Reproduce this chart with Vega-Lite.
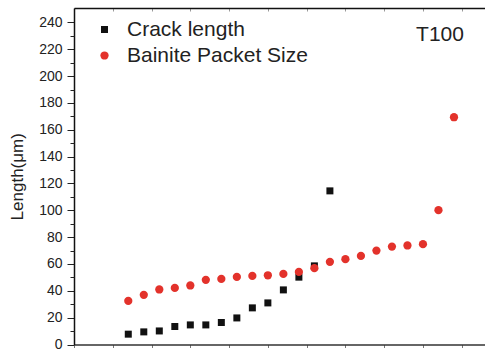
{
  "$schema": "https://vega.github.io/schema/vega-lite/v6.json",
  "autosize": {"type": "none"},
  "padding": {"left": 74, "top": 8, "right": 0, "bottom": 7.5},
  "width": 411,
  "height": 336.5,
  "background": "white",
  "config": {
    "view": {"stroke": null},
    "font": "Liberation Sans",
    "axis": {"grid": false, "labelFont": "Liberation Sans", "titleFont": "Liberation Sans", "labelColor": "#222", "titleColor": "#222"}
  },
  "datasets": {
    "pts": [
      {"series": "Crack length", "rank": 1, "value": 7.7},
      {"series": "Crack length", "rank": 2, "value": 9.4},
      {"series": "Crack length", "rank": 3, "value": 10.1},
      {"series": "Crack length", "rank": 4, "value": 13.4},
      {"series": "Crack length", "rank": 5, "value": 14.6},
      {"series": "Crack length", "rank": 6, "value": 14.6},
      {"series": "Crack length", "rank": 7, "value": 16.4},
      {"series": "Crack length", "rank": 8, "value": 19.8},
      {"series": "Crack length", "rank": 9, "value": 27.3},
      {"series": "Crack length", "rank": 10, "value": 31.0},
      {"series": "Crack length", "rank": 11, "value": 40.7},
      {"series": "Crack length", "rank": 12, "value": 50.2},
      {"series": "Crack length", "rank": 13, "value": 58.6},
      {"series": "Crack length", "rank": 14, "value": 114.5},
      {"series": "Bainite Packet Size", "rank": 1, "value": 32.5},
      {"series": "Bainite Packet Size", "rank": 2, "value": 37.0},
      {"series": "Bainite Packet Size", "rank": 3, "value": 41.0},
      {"series": "Bainite Packet Size", "rank": 4, "value": 42.2},
      {"series": "Bainite Packet Size", "rank": 5, "value": 44.0},
      {"series": "Bainite Packet Size", "rank": 6, "value": 48.2},
      {"series": "Bainite Packet Size", "rank": 7, "value": 48.9},
      {"series": "Bainite Packet Size", "rank": 8, "value": 50.4},
      {"series": "Bainite Packet Size", "rank": 9, "value": 51.1},
      {"series": "Bainite Packet Size", "rank": 10, "value": 51.6},
      {"series": "Bainite Packet Size", "rank": 11, "value": 52.6},
      {"series": "Bainite Packet Size", "rank": 12, "value": 54.1},
      {"series": "Bainite Packet Size", "rank": 13, "value": 56.9},
      {"series": "Bainite Packet Size", "rank": 14, "value": 61.6},
      {"series": "Bainite Packet Size", "rank": 15, "value": 63.6},
      {"series": "Bainite Packet Size", "rank": 16, "value": 66.0},
      {"series": "Bainite Packet Size", "rank": 17, "value": 70.0},
      {"series": "Bainite Packet Size", "rank": 18, "value": 73.0},
      {"series": "Bainite Packet Size", "rank": 19, "value": 73.8},
      {"series": "Bainite Packet Size", "rank": 20, "value": 74.8},
      {"series": "Bainite Packet Size", "rank": 21, "value": 100.1},
      {"series": "Bainite Packet Size", "rank": 22, "value": 169.4}
    ],
    "ann": [
      {"label": "T100", "x": 21.1, "y": 230.5}
    ]
  },
  "layer": [
    {
      "data": {"name": "pts"},
      "mark": {"type": "point", "filled": true, "opacity": 1, "strokeWidth": 0},
      "encoding": {
        "x": {
          "field": "rank", "type": "quantitative",
          "scale": {"domain": [-2.5, 24], "nice": false, "zero": false},
          "axis": {"orient": "bottom", "values": [-2.5, 0, 2.5, 5, 7.5, 10, 12.5, 15, 17.5, 20, 22.5], "labels": false, "title": null, "tickSize": 3, "tickColor": "#777", "domainColor": "#333", "domainWidth": 1.5}
        },
        "y": {
          "field": "value", "type": "quantitative",
          "scale": {"domain": [0, 250.8], "nice": false},
          "axis": {"orient": "left", "values": [0, 20, 40, 60, 80, 100, 120, 140, 160, 180, 200, 220, 240], "tickSize": 7, "tickColor": "#222", "labelFontSize": 14, "labelPadding": 5, "domainColor": "#111", "domainWidth": 1.5, "title": "Length(μm)", "titleFontSize": 17, "titleFontWeight": "normal", "titlePadding": 12}
        },
        "color": {
          "field": "series", "type": "nominal",
          "scale": {"domain": ["Crack length", "Bainite Packet Size"], "range": ["#111111", "#e3322b"]},
          "legend": {"title": null, "orient": "none", "legendX": 20, "legendY": 11, "labelFontSize": 21, "labelFont": "Liberation Sans", "labelColor": "#222", "labelLimit": 0, "symbolSize": 64, "symbolStrokeWidth": 0, "rowPadding": 4, "labelOffset": 12, "padding": 0}
        },
        "shape": {
          "field": "series", "type": "nominal",
          "scale": {"domain": ["Crack length", "Bainite Packet Size"], "range": ["square", "circle"]},
          "legend": {"title": null, "orient": "none", "legendX": 20, "legendY": 11, "labelFontSize": 21, "labelFont": "Liberation Sans", "labelColor": "#222", "labelLimit": 0, "symbolSize": 64, "symbolStrokeWidth": 0, "rowPadding": 4, "labelOffset": 12, "padding": 0}
        },
        "size": {
          "field": "series", "type": "nominal",
          "scale": {"domain": ["Crack length", "Bainite Packet Size"], "range": [49, 68]},
          "legend": null
        }
      }
    },
    {
      "data": {"name": "ann"},
      "mark": {"type": "text", "fontSize": 21, "font": "Liberation Sans", "color": "#222", "align": "center", "baseline": "middle"},
      "encoding": {
        "x": {
          "field": "x", "type": "quantitative",
          "scale": {"domain": [-2.5, 24], "nice": false, "zero": false},
          "axis": {"orient": "top", "values": [-2.5, 0, 2.5, 5, 7.5, 10, 12.5, 15, 17.5, 20, 22.5], "labels": false, "title": null, "tickSize": -3, "tickColor": "#999", "domainColor": "#111", "domainWidth": 1.5}
        },
        "y": {
          "field": "y", "type": "quantitative",
          "scale": {"domain": [0, 250.8], "nice": false},
          "axis": {"orient": "left", "values": [10, 30, 50, 70, 90, 110, 130, 150, 170, 190, 210, 230], "labels": false, "title": null, "domain": false, "tickSize": 4, "tickColor": "#222"}
        },
        "text": {"field": "label"}
      }
    }
  ],
  "resolve": {"axis": {"x": "independent", "y": "independent"}}
}
